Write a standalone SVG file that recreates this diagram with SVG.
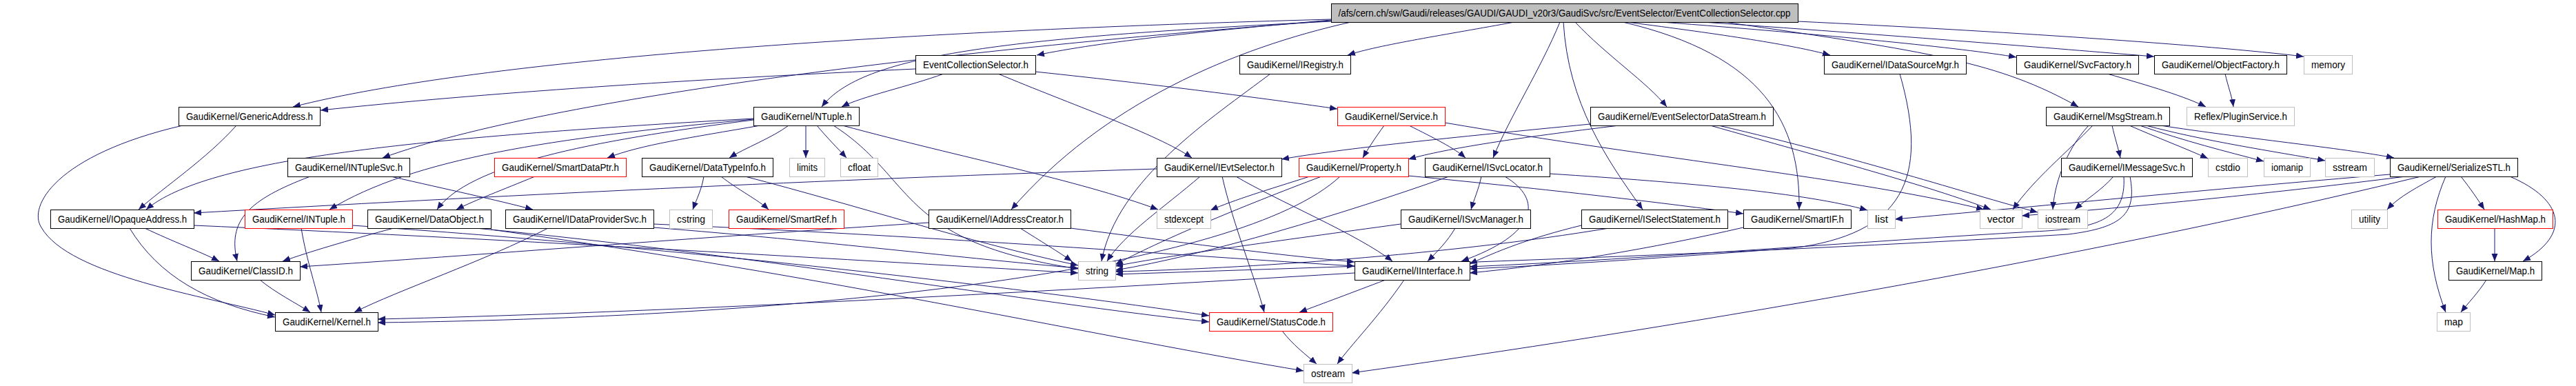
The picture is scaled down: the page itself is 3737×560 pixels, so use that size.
<svg xmlns="http://www.w3.org/2000/svg" width="3737" height="560" viewBox="0 0 3737 560">
<style>
rect{fill:#fff;stroke:#000;stroke-width:1}
.r rect{stroke:#f00}
.g rect{stroke:#bfbfbf}
.t rect{fill:#bfbfbf}
text{font-family:"Liberation Sans",Arial,sans-serif;font-size:14px;fill:#000;text-anchor:middle}
#edges path{fill:none;stroke:#191970;stroke-width:1;marker-end:url(#a)}
</style>
<defs>
<marker id="a" markerUnits="userSpaceOnUse" markerWidth="12" markerHeight="10" refX="11" refY="4.5" orient="auto"><path d="M0,0 L11,4.5 L0,9 z" fill="#191970"/></marker>
</defs>
<rect x="0" y="0" width="3737" height="560" style="stroke:none;fill:#fff"/>
<g id="edges">
<path d="M1931,28 C1300,45 700,85 425,155"/>
<path d="M1931,30 C1400,70 800,140 555,229"/>
<path d="M1931,31 C1450,55 1250,80 1192,155"/>
<path d="M1931,29 C1750,45 1600,60 1504,80"/>
<path d="M2197,32 C2100,50 2000,65 1955,80"/>
<path d="M1960,32 C1790,70 1600,150 1467,304"/>
<path d="M2263,32 C2235,100 2190,170 2166,229"/>
<path d="M2285,32 C2330,80 2390,120 2418,155"/>
<path d="M2268,32 C2275,150 2330,230 2383,304"/>
<path d="M2354,32 C2560,80 2612,180 2610,304"/>
<path d="M2360,32 C2500,50 2600,65 2655,80"/>
<path d="M2410,32 C2650,50 2850,70 2925,83"/>
<path d="M2470,32 C2800,55 3000,72 3125,82"/>
<path d="M2608,31 C2900,45 3200,65 3342,82"/>
<path d="M2502,32 C2800,75 2900,90 3015,155"/>
<path d="M1328,100 C1000,115 700,135 465,160"/>
<path d="M1369,107 C1320,125 1250,140 1221,155"/>
<path d="M1502,104 C1700,125 1850,145 1940,158"/>
<path d="M1448,107 C1550,150 1680,195 1729,229"/>
<path d="M1843,107 C1760,170 1620,260 1598,379"/>
<path d="M2756,107 C2800,260 2760,340 2600,360 C2400,375 2250,385 2132,390"/>
<path d="M3057,107 C3120,125 3170,140 3200,155"/>
<path d="M3228,107 C3232,125 3238,140 3240,155"/>
<path d="M343,182 C300,230 240,270 201,304"/>
<path d="M265,182 C80,225 40,300 60,330 C100,400 300,430 399,457"/>
<path d="M1093,172 C600,200 300,230 212,304"/>
<path d="M1093,173 C800,200 600,230 478,304"/>
<path d="M1093,174 C850,205 680,240 634,304"/>
<path d="M1103,182 C1000,200 930,210 881,229"/>
<path d="M1144,182 C1120,200 1080,215 1058,229"/>
<path d="M1169,182 L1169,229"/>
<path d="M1185,182 C1200,200 1215,215 1228,229"/>
<path d="M1209,182 C1330,260 1300,350 1564,390"/>
<path d="M1222,182 C1400,230 1560,260 1680,304"/>
<path d="M450,256 C360,290 330,320 344,379"/>
<path d="M567,256 C650,275 720,290 773,304"/>
<path d="M776,256 C730,275 690,290 662,304"/>
<path d="M1021,256 C1018,275 1010,290 1005,304"/>
<path d="M1046,256 C1070,275 1100,290 1115,304"/>
<path d="M1081,256 C1250,300 1400,350 1564,385"/>
<path d="M1678,245 C1200,260 700,285 281,309"/>
<path d="M1741,256 C1690,300 1630,340 1606,379"/>
<path d="M1773,256 C1790,330 1820,400 1834,453"/>
<path d="M1793,256 C1850,290 1970,340 2020,379"/>
<path d="M1917,256 C1800,300 1680,350 1618,384"/>
<path d="M1900,256 C1840,275 1790,290 1756,305"/>
<path d="M1944,256 C1800,390 1200,460 548,468"/>
<path d="M2043,255 C2250,275 2420,295 2529,310"/>
<path d="M2008,182 C1995,200 1985,215 1977,229"/>
<path d="M2044,182 C2080,200 2110,215 2126,229"/>
<path d="M2096,178 C2400,230 2700,260 2878,304"/>
<path d="M2307,180 C2100,200 1950,215 1859,231"/>
<path d="M2349,182 C2200,200 2100,215 2043,231"/>
<path d="M2481,182 C2650,230 2800,270 2888,304"/>
<path d="M2493,182 C2700,230 2850,280 2956,308"/>
<path d="M2102,256 C1950,310 1750,370 1618,392"/>
<path d="M2149,256 C2145,275 2138,290 2134,304"/>
<path d="M2183,256 C2240,290 2230,340 2120,379"/>
<path d="M2248,252 C2450,265 2620,280 2709,305"/>
<path d="M2111,331 C2100,350 2085,365 2071,379"/>
<path d="M2032,325 C1850,350 1700,370 1618,386"/>
<path d="M2294,327 C2220,345 2170,365 2132,383"/>
<path d="M2334,331 C2100,370 1800,390 1618,394"/>
<path d="M2529,330 C2400,360 2250,385 2132,396"/>
<path d="M3066,256 C3050,275 3025,290 3010,304"/>
<path d="M3081,256 C3085,320 3040,332 2950,336 C2700,350 2400,375 2132,387"/>
<path d="M3090,256 C3100,310 3080,330 3000,340 C2500,370 2000,385 1618,398"/>
<path d="M3064,182 C3068,200 3073,215 3076,229"/>
<path d="M3089,182 C3130,200 3170,215 3203,230"/>
<path d="M3104,182 C3170,205 3230,220 3284,234"/>
<path d="M3113,182 C3200,205 3300,220 3373,233"/>
<path d="M3134,182 C3250,200 3400,215 3473,229"/>
<path d="M3036,182 C3000,220 2950,260 2920,304"/>
<path d="M3030,182 C2995,220 2980,270 2978,304"/>
<path d="M3467,253 C3200,275 2950,300 2749,318"/>
<path d="M3490,256 C3300,280 3100,300 2933,313"/>
<path d="M3512,256 C3000,380 2400,480 1961,541"/>
<path d="M3535,256 C3510,270 3480,285 3463,304"/>
<path d="M3548,256 C3520,320 3520,380 3548,453"/>
<path d="M3570,256 C3585,275 3595,290 3604,304"/>
<path d="M3641,256 C3720,290 3730,340 3660,379"/>
<path d="M3619,331 L3619,379"/>
<path d="M3607,406 C3595,425 3580,440 3570,453"/>
<path d="M210,331 C250,350 290,365 318,379"/>
<path d="M188,331 C230,400 300,440 399,460"/>
<path d="M281,327 C700,345 1200,375 1564,396"/>
<path d="M437,331 C445,380 460,420 466,453"/>
<path d="M511,327 C1000,360 1500,420 1754,458"/>
<path d="M571,331 C500,350 450,365 410,379"/>
<path d="M690,331 C1100,370 1500,440 1754,467"/>
<path d="M712,333 C1200,400 1600,490 1891,538"/>
<path d="M795,331 C700,380 580,420 514,453"/>
<path d="M948,330 C1200,350 1400,375 1564,389"/>
<path d="M948,325 C1400,345 1700,370 1965,386"/>
<path d="M1347,323 C1000,345 700,370 435,387"/>
<path d="M1480,331 C1510,350 1535,365 1555,379"/>
<path d="M1553,331 C1700,350 1850,370 1965,380"/>
<path d="M377,406 C400,425 430,440 450,453"/>
<path d="M1965,396 C1400,430 900,455 548,463"/>
<path d="M2010,406 C1960,425 1920,440 1885,453"/>
<path d="M2037,406 C2000,460 1960,500 1940,528"/>
<path d="M1860,480 C1875,500 1895,515 1910,528"/>
</g>
<g id="n0" class="t"><rect x="1931.5" y="5.5" width="677" height="27"/><text x="2269.5" y="24" textLength="656" lengthAdjust="spacingAndGlyphs">/afs/cern.ch/sw/Gaudi/releases/GAUDI/GAUDI_v20r3/GaudiSvc/src/EventSelector/EventCollectionSelector.cpp</text></g>
<g id="n_ecs"><rect x="1328.5" y="80.5" width="174" height="27"/><text x="1415.5" y="99" textLength="153" lengthAdjust="spacingAndGlyphs">EventCollectionSelector.h</text></g>
<g id="n_iregistry"><rect x="1798.5" y="80.5" width="161" height="27"/><text x="1879" y="99" textLength="140" lengthAdjust="spacingAndGlyphs">GaudiKernel/IRegistry.h</text></g>
<g id="n_idatasourcemgr"><rect x="2646.5" y="80.5" width="206" height="27"/><text x="2749.5" y="99" textLength="185" lengthAdjust="spacingAndGlyphs">GaudiKernel/IDataSourceMgr.h</text></g>
<g id="n_svcfactory"><rect x="2925.5" y="80.5" width="177" height="27"/><text x="3014" y="99" textLength="156" lengthAdjust="spacingAndGlyphs">GaudiKernel/SvcFactory.h</text></g>
<g id="n_objectfactory"><rect x="3125.5" y="80.5" width="192" height="27"/><text x="3221.5" y="99" textLength="171" lengthAdjust="spacingAndGlyphs">GaudiKernel/ObjectFactory.h</text></g>
<g id="n_memory" class="g"><rect x="3342.5" y="80.5" width="70" height="27"/><text x="3377.5" y="99" textLength="49" lengthAdjust="spacingAndGlyphs">memory</text></g>
<g id="n_genericaddress"><rect x="259.5" y="155.5" width="205" height="27"/><text x="362" y="174" textLength="184" lengthAdjust="spacingAndGlyphs">GaudiKernel/GenericAddress.h</text></g>
<g id="n_ntuple"><rect x="1093.5" y="155.5" width="153" height="27"/><text x="1170" y="174" textLength="132" lengthAdjust="spacingAndGlyphs">GaudiKernel/NTuple.h</text></g>
<g id="n_service" class="r"><rect x="1940.5" y="155.5" width="156" height="27"/><text x="2018.5" y="174" textLength="135" lengthAdjust="spacingAndGlyphs">GaudiKernel/Service.h</text></g>
<g id="n_esds"><rect x="2307.5" y="155.5" width="265" height="27"/><text x="2440" y="174" textLength="244" lengthAdjust="spacingAndGlyphs">GaudiKernel/EventSelectorDataStream.h</text></g>
<g id="n_msgstream"><rect x="2968.5" y="155.5" width="179" height="27"/><text x="3058" y="174" textLength="158" lengthAdjust="spacingAndGlyphs">GaudiKernel/MsgStream.h</text></g>
<g id="n_pluginservice" class="g"><rect x="3172.5" y="155.5" width="156" height="27"/><text x="3250.5" y="174" textLength="135" lengthAdjust="spacingAndGlyphs">Reflex/PluginService.h</text></g>
<g id="n_intuplesvc"><rect x="417.5" y="229.5" width="177" height="27"/><text x="506" y="248" textLength="156" lengthAdjust="spacingAndGlyphs">GaudiKernel/INTupleSvc.h</text></g>
<g id="n_smartdataptr" class="r"><rect x="717.5" y="229.5" width="191" height="27"/><text x="813" y="248" textLength="170" lengthAdjust="spacingAndGlyphs">GaudiKernel/SmartDataPtr.h</text></g>
<g id="n_datatypeinfo"><rect x="931.5" y="229.5" width="190" height="27"/><text x="1026.5" y="248" textLength="169" lengthAdjust="spacingAndGlyphs">GaudiKernel/DataTypeInfo.h</text></g>
<g id="n_limits" class="g"><rect x="1145.5" y="229.5" width="51" height="27"/><text x="1171" y="248" textLength="30" lengthAdjust="spacingAndGlyphs">limits</text></g>
<g id="n_cfloat" class="g"><rect x="1219.5" y="229.5" width="54" height="27"/><text x="1246.5" y="248" textLength="33" lengthAdjust="spacingAndGlyphs">cfloat</text></g>
<g id="n_ievtselector"><rect x="1678.5" y="229.5" width="181" height="27"/><text x="1769" y="248" textLength="160" lengthAdjust="spacingAndGlyphs">GaudiKernel/IEvtSelector.h</text></g>
<g id="n_property" class="r"><rect x="1884.5" y="229.5" width="159" height="27"/><text x="1964" y="248" textLength="138" lengthAdjust="spacingAndGlyphs">GaudiKernel/Property.h</text></g>
<g id="n_isvclocator"><rect x="2067.5" y="229.5" width="181" height="27"/><text x="2158" y="248" textLength="160" lengthAdjust="spacingAndGlyphs">GaudiKernel/ISvcLocator.h</text></g>
<g id="n_imessagesvc"><rect x="2990.5" y="229.5" width="190" height="27"/><text x="3085.5" y="248" textLength="169" lengthAdjust="spacingAndGlyphs">GaudiKernel/IMessageSvc.h</text></g>
<g id="n_cstdio" class="g"><rect x="3203.5" y="229.5" width="57" height="27"/><text x="3232" y="248" textLength="36" lengthAdjust="spacingAndGlyphs">cstdio</text></g>
<g id="n_iomanip" class="g"><rect x="3284.5" y="229.5" width="67" height="27"/><text x="3318" y="248" textLength="46" lengthAdjust="spacingAndGlyphs">iomanip</text></g>
<g id="n_sstream" class="g"><rect x="3373.5" y="229.5" width="71" height="27"/><text x="3409" y="248" textLength="50" lengthAdjust="spacingAndGlyphs">sstream</text></g>
<g id="n_serializestl"><rect x="3467.5" y="229.5" width="185" height="27"/><text x="3560" y="248" textLength="164" lengthAdjust="spacingAndGlyphs">GaudiKernel/SerializeSTL.h</text></g>
<g id="n_iopaqueaddress"><rect x="73.5" y="304.5" width="208" height="27"/><text x="177.5" y="323" textLength="187" lengthAdjust="spacingAndGlyphs">GaudiKernel/IOpaqueAddress.h</text></g>
<g id="n_intuple" class="r"><rect x="355.5" y="304.5" width="156" height="27"/><text x="433.5" y="323" textLength="135" lengthAdjust="spacingAndGlyphs">GaudiKernel/INTuple.h</text></g>
<g id="n_dataobject"><rect x="533.5" y="304.5" width="179" height="27"/><text x="623" y="323" textLength="158" lengthAdjust="spacingAndGlyphs">GaudiKernel/DataObject.h</text></g>
<g id="n_idataprovidersvc"><rect x="733.5" y="304.5" width="215" height="27"/><text x="841" y="323" textLength="194" lengthAdjust="spacingAndGlyphs">GaudiKernel/IDataProviderSvc.h</text></g>
<g id="n_cstring" class="g"><rect x="971.5" y="304.5" width="62" height="27"/><text x="1002.5" y="323" textLength="41" lengthAdjust="spacingAndGlyphs">cstring</text></g>
<g id="n_smartref" class="r"><rect x="1057.5" y="304.5" width="167" height="27"/><text x="1141" y="323" textLength="146" lengthAdjust="spacingAndGlyphs">GaudiKernel/SmartRef.h</text></g>
<g id="n_iaddresscreator"><rect x="1347.5" y="304.5" width="206" height="27"/><text x="1450.5" y="323" textLength="185" lengthAdjust="spacingAndGlyphs">GaudiKernel/IAddressCreator.h</text></g>
<g id="n_stdexcept" class="g"><rect x="1678.5" y="304.5" width="78" height="27"/><text x="1717.5" y="323" textLength="57" lengthAdjust="spacingAndGlyphs">stdexcept</text></g>
<g id="n_isvcmanager"><rect x="2032.5" y="304.5" width="188" height="27"/><text x="2126.5" y="323" textLength="167" lengthAdjust="spacingAndGlyphs">GaudiKernel/ISvcManager.h</text></g>
<g id="n_iselectstatement"><rect x="2294.5" y="304.5" width="212" height="27"/><text x="2400.5" y="323" textLength="191" lengthAdjust="spacingAndGlyphs">GaudiKernel/ISelectStatement.h</text></g>
<g id="n_smartif"><rect x="2529.5" y="304.5" width="156" height="27"/><text x="2607.5" y="323" textLength="135" lengthAdjust="spacingAndGlyphs">GaudiKernel/SmartIF.h</text></g>
<g id="n_list" class="g"><rect x="2709.5" y="304.5" width="40" height="27"/><text x="2729.5" y="323" textLength="19" lengthAdjust="spacingAndGlyphs">list</text></g>
<g id="n_vector" class="g"><rect x="2872.5" y="304.5" width="61" height="27"/><text x="2903" y="323" textLength="40" lengthAdjust="spacingAndGlyphs">vector</text></g>
<g id="n_iostream" class="g"><rect x="2956.5" y="304.5" width="72" height="27"/><text x="2992.5" y="323" textLength="51" lengthAdjust="spacingAndGlyphs">iostream</text></g>
<g id="n_utility" class="g"><rect x="3411.5" y="304.5" width="52" height="27"/><text x="3437.5" y="323" textLength="31" lengthAdjust="spacingAndGlyphs">utility</text></g>
<g id="n_hashmap" class="r"><rect x="3536.5" y="304.5" width="167" height="27"/><text x="3620" y="323" textLength="146" lengthAdjust="spacingAndGlyphs">GaudiKernel/HashMap.h</text></g>
<g id="n_classid"><rect x="277.5" y="379.5" width="158" height="27"/><text x="356.5" y="398" textLength="137" lengthAdjust="spacingAndGlyphs">GaudiKernel/ClassID.h</text></g>
<g id="n_string" class="g"><rect x="1564.5" y="379.5" width="54" height="27"/><text x="1591.5" y="398" textLength="33" lengthAdjust="spacingAndGlyphs">string</text></g>
<g id="n_iinterface"><rect x="1965.5" y="379.5" width="167" height="27"/><text x="2049" y="398" textLength="146" lengthAdjust="spacingAndGlyphs">GaudiKernel/IInterface.h</text></g>
<g id="n_map_h"><rect x="3552.5" y="379.5" width="135" height="27"/><text x="3620" y="398" textLength="114" lengthAdjust="spacingAndGlyphs">GaudiKernel/Map.h</text></g>
<g id="n_kernel"><rect x="399.5" y="453.5" width="149" height="27"/><text x="474" y="472" textLength="128" lengthAdjust="spacingAndGlyphs">GaudiKernel/Kernel.h</text></g>
<g id="n_statuscode" class="r"><rect x="1754.5" y="453.5" width="179" height="27"/><text x="1844" y="472" textLength="158" lengthAdjust="spacingAndGlyphs">GaudiKernel/StatusCode.h</text></g>
<g id="n_map" class="g"><rect x="3535.5" y="453.5" width="48" height="27"/><text x="3559.5" y="472" textLength="27" lengthAdjust="spacingAndGlyphs">map</text></g>
<g id="n_ostream" class="g"><rect x="1891.5" y="528.5" width="70" height="27"/><text x="1926.5" y="547" textLength="49" lengthAdjust="spacingAndGlyphs">ostream</text></g>
</svg>
